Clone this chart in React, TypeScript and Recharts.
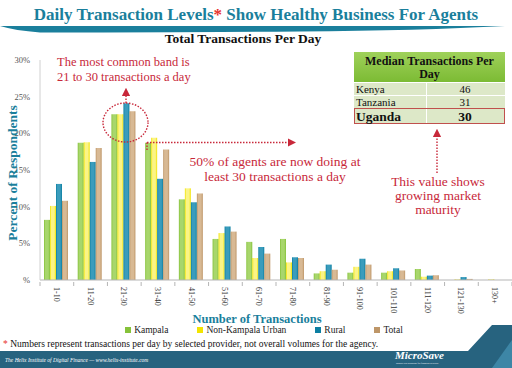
import { BarChart, Bar, XAxis, YAxis, Legend } from "recharts";

// percent of respondents per band of daily transactions
const categories = ["1-10", "11-20", "21-30", "31-40", "41-50", "51-60", "61-70", "71-80", "81-90", "91-100", "101-110", "111-120", "121-130", "130+"];
const kampala = [8.2, 18.7, 22.6, 18.7, 11.0, 5.6, 5.2, 5.6, 0.9, 1.0, 1.0, 1.5, 0, 0];
const nonKampalaUrban = [10.1, 18.8, 22.6, 19.4, 12.5, 6.4, 3.0, 2.4, 1.2, 1.8, 1.2, 0.45, 0.1, 0.1];
const rural = [13.1, 16.1, 24.1, 13.8, 10.6, 7.3, 4.5, 3.1, 2.1, 2.9, 1.6, 0.6, 0.4, 0];
const total = [10.8, 18.0, 23.0, 17.8, 11.8, 6.6, 3.6, 3.0, 1.4, 2.1, 1.3, 0.65, 0.15, 0];

const yTicks = [0, 5, 10, 15, 20, 25, 30];
const yTickLabels = ["%", "5%", "10%", "15%", "20%", "25%", "30%"];

const seriesNames = ["Kampala", "Non-Kampala Urban", "Rural", "Total"];
const seriesColors = ["#86c23a", "#f2e400", "#0c7fa2", "#be9668"];
const seriesLight = ["#a8d66c", "#fbf486", "#3a9cbc", "#d8b994"];

// median table
const countries = ["Kenya", "Tanzania", "Uganda"];
const medians = [46, 31, 30];

const data = categories.map((band, i) => ({
  band,
  Kampala: kampala[i],
  "Non-Kampala Urban": nonKampalaUrban[i],
  Rural: rural[i],
  Total: total[i],
}));

const SERIF = "Times New Roman, Liberation Serif, DejaVu Serif, Noto Serif, serif";
const TEAL = "#1a7f9c";
const RED = "#c8283a";

const XTick = (props: any) => {
  const { x, y, payload, index } = props;
  const half = 472 / categories.length / 2;
  return (
    <g transform={`translate(${x},${y})`}>
      <line x1={-half} x2={-half} y1={0} y2={4} stroke="#b5b5b5" />
      {index === categories.length - 1 && (
        <line x1={half} x2={half} y1={0} y2={4} stroke="#b5b5b5" />
      )}
      <text
        transform="rotate(90)"
        x={5}
        y={3}
        textAnchor="start"
        fontSize={8}
        fontFamily={SERIF}
        fill="#333"
      >
        {payload.value}
      </text>
    </g>
  );
};

const LegendContent = () => (
  <div
    style={{
      display: "flex",
      justifyContent: "center",
      gap: 29,
      fontFamily: SERIF,
      fontSize: 9.5,
      color: "#222",
      paddingLeft: 16,
    }}
  >
    {seriesNames.map((name, i) => (
      <span key={name} style={{ display: "flex", alignItems: "center" }}>
        <span
          style={{
            width: 6,
            height: 6,
            background: seriesColors[i],
            marginRight: 3,
            display: "inline-block",
          }}
        />
        {name}
      </span>
    ))}
  </div>
);

const Overlay = () => (
  <svg
    width={512}
    height={368}
    style={{ position: "absolute", left: 0, top: 0, pointerEvents: "none" }}
  >
    <defs>
      <marker id="arr" markerWidth="6" markerHeight="6" refX="3" refY="3" orient="auto">
        <path d="M0,0 L6,3 L0,6 z" fill={RED} />
      </marker>
      <linearGradient id="hdr" x1="0" y1="0" x2="0" y2="1">
        <stop offset="0" stopColor="#9fd15a" />
        <stop offset="1" stopColor="#7cbb34" />
      </linearGradient>
    </defs>

    {/* title + swoosh */}
    <text x={256} y={20} textAnchor="middle" fontFamily={SERIF} fontWeight="bold" fontSize={17} fill={TEAL}>
      Daily Transaction Levels<tspan fill="#e8342e">*</tspan> Show Healthy Business For Agents
    </text>
    <path d="M0,26 L505,26 Q420,30.5 300,31.5 Q120,32.5 40,32.5 Q15,30.5 0,26 z" fill={TEAL} />
    <text x={243} y={43} textAnchor="middle" fontFamily={SERIF} fontWeight="bold" fontSize={13.5} fill="#111">
      Total Transactions Per Day
    </text>

    {/* axis titles */}
    <text
      transform="translate(17,173) rotate(-90)"
      textAnchor="middle"
      fontFamily={SERIF}
      fontWeight="bold"
      fontSize={13.5}
      fill={TEAL}
    >
      Percent of Respondents
    </text>
    <text x={257} y={323} textAnchor="middle" fontFamily={SERIF} fontWeight="bold" fontSize={12.5} fill={TEAL}>
      Number of Transactions
    </text>

    {/* annotations */}
    <g fontFamily={SERIF} fontSize={12.5} fill={RED}>
      <text x={57} y={66}>The most common band is</text>
      <text x={57} y={81}>21 to 30 transactions a day</text>
    </g>
    <g fontFamily={SERIF} fontSize={13.5} fill={RED}>
      <text x={275} y={166} textAnchor="middle">50% of agents are now doing at</text>
      <text x={275} y={181} textAnchor="middle">least 30 transactions a day</text>
      <text x={438} y={186} textAnchor="middle">This value shows</text>
      <text x={438} y={200} textAnchor="middle">growing market</text>
      <text x={438} y={214} textAnchor="middle">maturity</text>
    </g>
    <g stroke={RED} strokeWidth={1.4} strokeDasharray="1.5 1.5" fill="none">
      <ellipse cx={125.5} cy={122.5} rx={22.5} ry={19.5} />
      <line x1={126} y1={103} x2={126} y2={92} markerEnd="url(#arr)" />
      <line x1={147} y1={150} x2={147} y2={142.5} />
      <line x1={147} y1={142.5} x2={292} y2={142.5} markerEnd="url(#arr)" />
      <line x1={437} y1={173} x2={437} y2={133} markerEnd="url(#arr)" />
    </g>

    {/* median table */}
    <rect x={354} y={52} width={151} height={30} fill="url(#hdr)" />
    <text x={429.5} y={65} textAnchor="middle" fontFamily={SERIF} fontWeight="bold" fontSize={12} fill="#111">
      Median Transactions Per
    </text>
    <text x={429.5} y={78} textAnchor="middle" fontFamily={SERIF} fontWeight="bold" fontSize={12} fill="#111">
      Day
    </text>
    {countries.map((c, i) => {
      const top = 83 + i * 13;
      const h = i === 2 ? 14 : 12;
      const big = i === 2;
      return (
        <g key={c}>
          <rect x={354} y={top} width={72} height={h} fill="#dde8c8" />
          <rect x={427} y={top} width={78} height={h} fill="#dde8c8" />
          {big && <rect x={354.5} y={top - 0.5} width={150} height={h + 1} fill="none" stroke="#c0504d" strokeWidth={1} />}
          <text x={356} y={top + h - 2.5} fontFamily={SERIF} fontSize={big ? 13.5 : 11} fontWeight={big ? "bold" : "normal"} fill="#111">
            {c}
          </text>
          <text x={465} y={top + h - 2.5} textAnchor="middle" fontFamily={SERIF} fontSize={big ? 13.5 : 11} fontWeight={big ? "bold" : "normal"} fill="#111">
            {medians[i]}
          </text>
        </g>
      );
    })}

    {/* footnote */}
    <text x={3} y={347} fontFamily={SERIF} fontSize={9.5} fill="#111">
      <tspan fill="#e8342e">*</tspan> Numbers represent transactions per day by selected provider, not overall volumes for the agency.
    </text>

    {/* footer band */}
    <path d="M0,351 L468,351 L492,325 L512,325 L512,368 L0,368 z" fill="#27637f" />
    <path d="M492,368 L512,340 L512,368 z" fill="#3d86a6" />
    <text x={470} y={347} textAnchor="middle" fontFamily={SERIF} fontSize={15} fill="#fff">
      7
    </text>
    <text x={5} y={362} fontFamily={SERIF} fontStyle="italic" fontSize={5.5} fill="#fff">
      The Helix Institute of Digital Finance  —  www.helix-institute.com
    </text>
    <text x={395} y={359} fontFamily={SERIF} fontStyle="italic" fontWeight="bold" fontSize={11} fill="#fff">
      MicroSave
    </text>
    <text x={396} y={364} fontFamily={SERIF} fontSize={2.5} fill="#fff">
      Market-led solutions for financial services
    </text>
  </svg>
);

export default function App() {
  return (
    <div style={{ position: "absolute", left: 0, top: 0, width: 512, height: 368, background: "#fff", overflow: "hidden" }}>
      <BarChart
        width={512}
        height={368}
        data={data}
        margin={{ top: 60, right: 0, left: 0, bottom: 0 }}
        barCategoryGap={4}
        barGap={0}
      >
        <defs>
          {seriesNames.map((name, i) => (
            <linearGradient key={name} id={`g${i}`} x1="0" y1="0" x2="1" y2="0">
              <stop offset="0" stopColor={seriesColors[i]} />
              <stop offset="0.25" stopColor={seriesLight[i]} />
              <stop offset="0.7" stopColor={seriesLight[i]} />
              <stop offset="1" stopColor={seriesColors[i]} />
            </linearGradient>
          ))}
        </defs>
        <XAxis
          dataKey="band"
          height={88}
          interval={0}
          tickSize={0}
          tick={<XTick />}
          axisLine={{ stroke: "#b5b5b5" }}
        />
        <YAxis
          width={40}
          domain={[0, 30]}
          ticks={yTicks}
          tickFormatter={(v: number) => yTickLabels[yTicks.indexOf(v)]}
          tick={{ fontSize: 8.5, fontFamily: SERIF, fill: "#555" }}
          tickLine={false}
          axisLine={{ stroke: "#d0d0d0" }}
          tickMargin={4}
        />
        <Legend
          layout="horizontal"
          verticalAlign="middle"
          align="center"
          content={<LegendContent />}
          wrapperStyle={{ top: 325, left: 0, width: 512, bottom: "auto" }}
        />
        {seriesNames.map((name, i) => (
          <Bar key={name} dataKey={name} fill={`url(#g${i})`} isAnimationActive={false} />
        ))}
      </BarChart>
      <Overlay />
    </div>
  );
}
